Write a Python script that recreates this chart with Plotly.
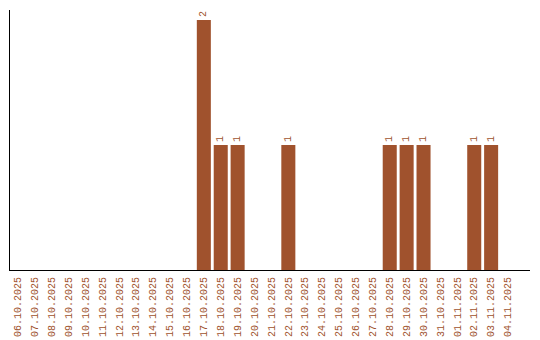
import plotly.graph_objects as go

dates = ["06.10.2025", "07.10.2025", "08.10.2025", "09.10.2025", "10.10.2025",
         "11.10.2025", "12.10.2025", "13.10.2025", "14.10.2025", "15.10.2025",
         "16.10.2025", "17.10.2025", "18.10.2025", "19.10.2025", "20.10.2025",
         "21.10.2025", "22.10.2025", "23.10.2025", "24.10.2025", "25.10.2025",
         "26.10.2025", "27.10.2025", "28.10.2025", "29.10.2025", "30.10.2025",
         "31.10.2025", "01.11.2025", "02.11.2025", "03.11.2025", "04.11.2025"]
counts = [0, 0, 0, 0, 0, 0, 0, 0, 0, 0,
          0, 2, 1, 1, 0, 0, 1, 0, 0, 0,
          0, 0, 1, 1, 1, 0, 0, 1, 1, 0]

color = "#A0522D"
FONT = "Liberation Mono"
labels = [str(c) if c > 0 else "" for c in counts]

fig = go.Figure(go.Bar(
    x=list(range(len(dates))), y=counts, marker_color=color, marker_line_width=0,
    text=labels, textposition="outside", textangle=-90,
    textfont=dict(family=FONT, size=10, color=color),
    cliponaxis=False,
))
fig.update_layout(
    width=540, height=340,
    margin=dict(l=10, r=10, t=10, b=70, autoexpand=False),
    paper_bgcolor="white", plot_bgcolor="white",
    bargap=0.17, showlegend=False,
    font=dict(family=FONT, size=10, color=color),
)
fig.update_xaxes(
    tickmode="array", tickvals=list(range(len(dates))), ticktext=dates,
    tickangle=-90, range=[-0.47, 30.3], showline=True, linecolor="black",
    linewidth=1, showgrid=False, zeroline=False, ticks="", automargin=False,
    ticklabelstandoff=2,
    tickfont=dict(family=FONT, size=10, color=color),
)
fig.update_yaxes(
    range=[0, 2.08], showline=True, linecolor="black", linewidth=1,
    showgrid=False, zeroline=False, showticklabels=False, ticks="",
)
fig.write_html("out.html")
